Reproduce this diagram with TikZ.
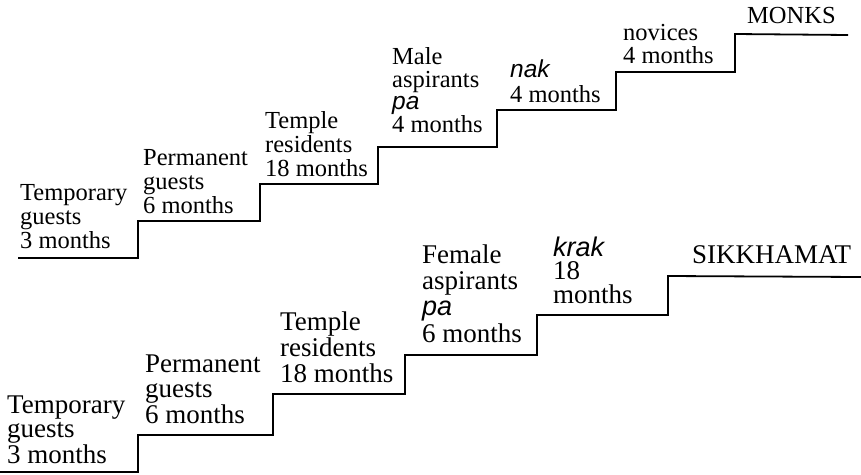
\documentclass[tikz,border=0pt]{standalone}
\usepackage{fontspec}
\setmainfont{Liberation Serif}
\newfontfamily\sansfam{Liberation Sans}
\newcommand\itlbl[1]{{\sansfam\itshape #1}}
\tikzset{
  stair/.style={line width=1.8pt, line join=miter},
  toplbl/.style={anchor=base west, inner sep=0pt, align=left, font=\fontsize{24.5}{24}\selectfont},
  botlbl/.style={anchor=base west, inner sep=0pt, align=left, font=\fontsize{27}{25.5}\selectfont},
}
\begin{document}
\begin{tikzpicture}[x=1pt,y=-1pt]
\useasboundingbox (0,0) rectangle (861,474);
% top staircase (MONKS)
\draw[stair] (18,258) -- (138,258) -- (138,221) -- (260,221) -- (260,184) -- (378,184)
  -- (378,147) -- (497,147) -- (497,110) -- (616,110) -- (616,72) -- (735,72) -- (735,34) -- (848,35);
\node[toplbl] (t1) at (20,248) {Temporary\\guests\\3 months};
\node[toplbl] (t2) at (143,213) {Permanent\\guests\\6 months};
\node[toplbl] (t3) at (265,176) {Temple\\residents\\18 months};
\node[toplbl, font=\fontsize{24.5}{22.4}\selectfont] (t4) at (392,132) {Male\\aspirants\\\itlbl{pa}\\4 months};
\node[toplbl, font=\fontsize{24.5}{25}\selectfont] (t5) at (510,102) {\itlbl{nak}\\4 months};
\node[toplbl, font=\fontsize{24.5}{23}\selectfont] (t6) at (623,63) {novices\\4 months};
\node[toplbl] (monks) at (747,23) {MONKS};
% bottom staircase (SIKKHAMAT)
\draw[stair] (0,472) -- (138,472) -- (138,435) -- (273,435) -- (273,394) -- (405,394)
  -- (405,355) -- (537,355) -- (537,315) -- (668,315) -- (668,276) -- (861,277);
\node[botlbl, font=\fontsize{27}{24}\selectfont] (b1) at (7,463) {Temporary\\guests\\3 months};
\node[botlbl] (b2) at (145,423) {Permanent\\guests\\6 months};
\node[botlbl, font=\fontsize{27}{26}\selectfont] (b3) at (280,382) {Temple\\residents\\18 months};
\node[botlbl, font=\fontsize{27}{26.3}\selectfont] (b4) at (422,342) {Female\\aspirants\\\itlbl{pa}\\6 months};
\node[botlbl, font=\fontsize{27}{23.5}\selectfont] (b5) at (553,303) {\itlbl{krak}\\18\\months};
\node[botlbl] (sik) at (692,263) {SIKKHAMAT};
\end{tikzpicture}
\end{document}
